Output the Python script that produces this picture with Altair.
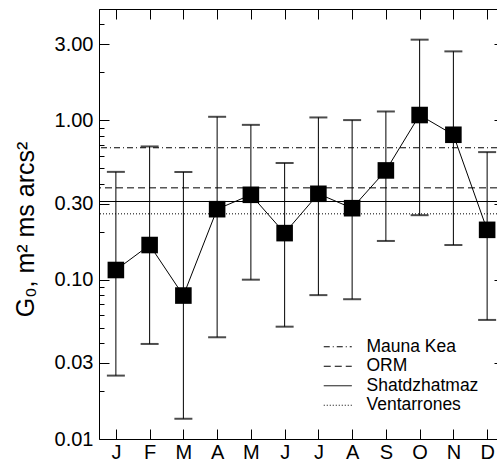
import altair as alt
import pandas as pd

# Monthly G0 statistics (median with lower/upper bounds)
months = ["J", "F", "M", "A", "M", "J", "J", "A", "S", "O", "N", "D"]
g0_median = [0.115, 0.165, 0.0795, 0.277, 0.341, 0.196, 0.346, 0.281, 0.485, 1.08, 0.812, 0.2055]
g0_high = [0.475, 0.686, 0.474, 1.053, 0.937, 0.540, 1.043, 1.004, 1.137, 3.21, 2.71, 0.632]
g0_low = [0.025, 0.0395, 0.0134, 0.0435, 0.100, 0.0507, 0.080, 0.0754, 0.175, 0.254, 0.165, 0.0559]

# Reference levels for other sites
sites = ["Mauna Kea", "ORM", "Shatdzhatmaz", "Ventarrones"]
site_g0 = [0.673, 0.377, 0.3095, 0.259]
site_dash = [[6, 3, 1, 3], [7, 4], [1, 0], [1, 2]]

# Axis tick values
major_ticks = [0.01, 0.03, 0.1, 0.3, 1.0, 3.0]
minor_ticks = [k * d for d in (0.01, 0.1, 1.0) for k in (2, 4, 5, 6, 7, 8, 9) if k * d <= 5.0]
month_ticks = list(range(1, 13))

idx = list(range(1, 13))
monthly = pd.DataFrame({"m": idx, "med": g0_median, "lo": g0_low, "hi": g0_high})
caps = pd.DataFrame({"m": idx + idx, "v": g0_low + g0_high})
ref = pd.DataFrame({"site": sites, "g0": site_g0})

FONT = "Liberation Sans"
xs = alt.Scale(domain=[0.5, 12.5], range=[0, 405], nice=False, zero=False)
ys = alt.Scale(type="log", domain=[0.01, 5.0], nice=False)

label_expr = "[" + ",".join(f"'{m}'" for m in months) + "][datum.value - 1]"

# Axis pieces: labels/domain, plus inward tick sets built with negative offsets
x_main = alt.Axis(orient="bottom", values=month_ticks, labelExpr=label_expr, ticks=False, tickSize=0,
                  labelPadding=3, labelFontSize=20, labelFont=FONT, labelColor="black",
                  domainColor="black", grid=False, title=None, labelBaseline="top")
x_bottom_ticks = alt.Axis(orient="bottom", values=month_ticks, offset=-10, tickSize=10, labels=False,
                          domain=False, grid=False, title=None, tickColor="black")
x_top_domain = alt.Axis(orient="top", values=month_ticks, ticks=False, labels=False, domain=True,
                        domainColor="black", grid=False, title=None)
x_top_ticks = alt.Axis(orient="top", values=month_ticks, offset=-10, tickSize=10, labels=False,
                       domain=False, grid=False, title=None, tickColor="black")

y_main = alt.Axis(orient="left", values=major_ticks, format=".2f", ticks=False, tickSize=0,
                  labelPadding=6, labelFontSize=20, labelFont=FONT, labelColor="black",
                  domainColor="black", grid=False, title="G₀, m² ms arcs²", titleFontSize=25,
                  titleFont=FONT, titleFontWeight="normal", titleColor="black", titleAngle=270,
                  titleX=-66, titleY=220, titleAlign="center", titleBaseline="alphabetic")
y_major_ticks = alt.Axis(orient="left", values=major_ticks, offset=-10, tickSize=10, labels=False,
                         domain=False, grid=False, title=None, tickColor="black")
y_minor_ticks = alt.Axis(orient="left", values=minor_ticks, offset=-5, tickSize=5, labels=False,
                         domain=False, grid=False, title=None, tickColor="black")
y_right_ticks = alt.Axis(orient="right", values=major_ticks, offset=-3, tickSize=10, labels=False,
                         domain=False, grid=False, title=None, tickColor="black")

refs = alt.Chart(ref).mark_rule(color="black", strokeWidth=1).encode(
    y=alt.Y("g0:Q", scale=ys, axis=None),
    strokeDash=alt.StrokeDash(
        "site:N",
        scale=alt.Scale(domain=sites, range=site_dash),
        legend=alt.Legend(orient="none", legendX=230, legendY=329, title=None, padding=0,
                          symbolType="M-2,0H2", symbolSize=196, symbolStrokeWidth=1,
                          symbolStrokeColor="black", labelFontSize=17.5, labelFont=FONT,
                          labelColor="black", labelOffset=20, rowPadding=0.5),
    ),
)

bars = alt.Chart(monthly).mark_rule(color="black", strokeWidth=1).encode(
    x=alt.X("m:Q", scale=xs, axis=x_main),
    y=alt.Y("lo:Q", scale=ys, axis=y_main),
    y2="hi:Q",
)

cap_marks = alt.Chart(caps).mark_tick(color="black", orient="horizontal", size=18, thickness=2).encode(
    x=alt.X("m:Q", scale=xs, axis=x_bottom_ticks),
    y=alt.Y("v:Q", scale=ys, axis=y_major_ticks),
)

line = alt.Chart(monthly).mark_line(color="black", strokeWidth=1).encode(
    x=alt.X("m:Q", scale=xs, axis=x_top_domain),
    y=alt.Y("med:Q", scale=ys, axis=y_minor_ticks),
)

squares = alt.Chart(monthly).mark_square(color="black", size=275, opacity=1).encode(
    x=alt.X("m:Q", scale=xs, axis=x_top_ticks),
    y=alt.Y("med:Q", scale=ys, axis=y_right_ticks),
)

chart = (
    alt.layer(refs, bars, cap_marks, line, squares)
    .resolve_axis(x="independent", y="independent")
    .properties(
        width=398,
        height=430,
        autosize=alt.AutoSizeParams(type="none"),
        padding={"left": 99, "top": 9, "right": 0, "bottom": 23},
    )
    .configure_view(stroke=None)
    .configure(font=FONT)
)

chart.save("out.html", embed_options={"renderer": "svg", "actions": False})
